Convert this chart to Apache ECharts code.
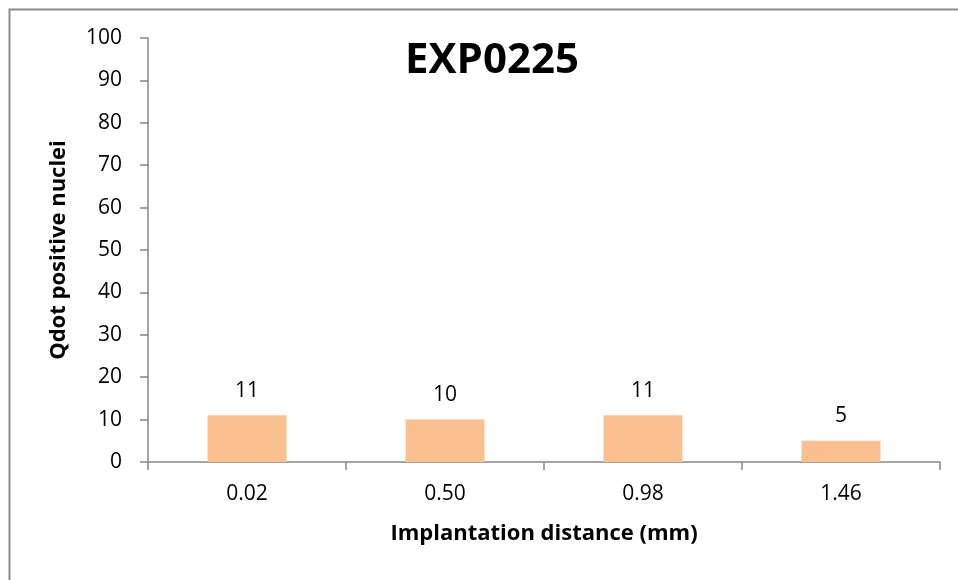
<!DOCTYPE html>
<html>
<head>
<meta charset="utf-8">
<script src="https://cdn.jsdelivr.net/npm/echarts@6/dist/echarts.min.js"></script>
<style>
  html, body { margin: 0; padding: 0; background: #fff; }
  #main { width: 958px; height: 580px; }
</style>
</head>
<body>
<div id="main"></div>
<script>
// chart data
const categories = ['0.02', '0.50', '0.98', '1.46'];
const nuclei = [11, 10, 11, 5];

const font = '"Open Sans", "Liberation Sans", sans-serif';
const axisGray = '#868686';

const myChart = echarts.init(document.getElementById('main'));
myChart.setOption({
  animation: false,
  backgroundColor: '#fff',
  // outer chart frame (right and bottom edges fall outside the picture)
  graphic: [{
    type: 'rect',
    shape: { x: 9.5, y: 9.5, width: 1000, height: 1000 },
    style: { fill: 'none', stroke: '#898989', lineWidth: 2 },
    silent: true
  }],
  title: {
    text: 'EXP0225',
    left: 487,
    top: 35,
    textAlign: 'center',
    textStyle: { fontFamily: font, fontSize: 42, fontWeight: 'bold', color: '#000' }
  },
  grid: { left: 148, top: 38, width: 792, height: 424, containLabel: false },
  xAxis: {
    type: 'category',
    data: categories,
    name: 'Implantation distance (mm)',
    nameLocation: 'middle',
    nameGap: 61,
    nameTextStyle: { fontFamily: font, fontSize: 22, fontWeight: 'bold', color: '#000' },
    axisLine: { lineStyle: { color: axisGray, width: 1.5 } },
    axisTick: { show: true, length: 8, alignWithLabel: false, lineStyle: { color: axisGray, width: 1.5 } },
    axisLabel: { fontFamily: font, fontSize: 21, color: '#000', margin: 22 },
    splitLine: { show: false }
  },
  yAxis: {
    type: 'value',
    min: 0,
    max: 100,
    interval: 10,
    name: 'Qdot positive nuclei',
    nameLocation: 'middle',
    nameGap: 78,
    nameTextStyle: { fontFamily: font, fontSize: 22, fontWeight: 'bold', color: '#000' },
    axisLine: { show: true, lineStyle: { color: axisGray, width: 1.5 } },
    axisTick: { show: true, length: 8, lineStyle: { color: axisGray, width: 1.5 } },
    axisLabel: { fontFamily: font, fontSize: 21, color: '#000', margin: 26 },
    splitLine: { show: false }
  },
  series: [{
    type: 'bar',
    data: nuclei,
    barWidth: 79,
    itemStyle: { color: '#FAC090' },
    label: {
      show: true,
      position: 'top',
      distance: 14,
      fontFamily: font,
      fontSize: 21,
      color: '#000'
    }
  }]
});
</script>
</body>
</html>
